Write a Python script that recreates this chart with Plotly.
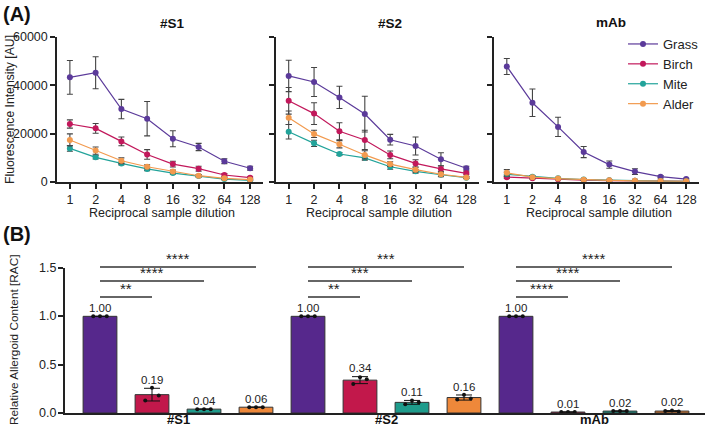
import numpy as np
import plotly.graph_objects as go

W, H = 709, 434

# ---------------- data ----------------
dilutions = ['1', '2', '4', '8', '16', '32', '64', '128']
allergens = ['Grass', 'Birch', 'Mite', 'Alder']
panels = ['#S1', '#S2', 'mAb']

# Fluorescence intensity [AU] (mean, SD) per panel / allergen
s1_grass = [43300, 45200, 30200, 26200, 17900, 14500, 8600, 5700]
s1_grass_sd = [7000, 6600, 4000, 7100, 3300, 1500, 1000, 800]
s1_birch = [24000, 22200, 16800, 11400, 7400, 5500, 2900, 1800]
s1_birch_sd = [1700, 2000, 1800, 2000, 1200, 1000, 600, 400]
s1_mite = [13900, 10200, 7700, 5400, 3700, 2500, 1200, 700]
s1_mite_sd = [1200, 700, 600, 700, 500, 400, 300, 200]
s1_alder = [17400, 13000, 8800, 6300, 4300, 2600, 1500, 1000]
s1_alder_sd = [2500, 1500, 1200, 800, 600, 500, 300, 200]

s2_grass = [43900, 41400, 35000, 28100, 17500, 14900, 9400, 5700]
s2_grass_sd = [6500, 6000, 4600, 7400, 2200, 3700, 2700, 800]
s2_birch = [33600, 28300, 21000, 17400, 11200, 7700, 5400, 3600]
s2_birch_sd = [5500, 4500, 3500, 4000, 1600, 1500, 1200, 600]
s2_mite = [20800, 16000, 11600, 10000, 6300, 4400, 3000, 1800]
s2_mite_sd = [3000, 1300, 600, 1000, 1000, 800, 600, 300]
s2_alder = [26600, 19900, 15600, 11200, 7400, 5100, 3200, 1900]
s2_alder_sd = [2800, 1500, 1500, 1700, 1000, 1000, 1000, 400]

mab_grass = [47800, 32800, 22800, 12400, 7200, 4300, 2200, 1200]
mab_grass_sd = [3300, 5700, 4000, 2300, 1500, 1200, 500, 300]
mab_birch = [2000, 1500, 1100, 800, 600, 500, 400, 300]
mab_birch_sd = [500, 300, 200, 150, 100, 100, 100, 100]
mab_mite = [3200, 2200, 1500, 1000, 700, 500, 400, 300]
mab_mite_sd = [900, 500, 300, 200, 150, 100, 100, 100]
mab_alder = [3800, 2000, 1400, 900, 700, 500, 400, 300]
mab_alder_sd = [1300, 500, 300, 200, 150, 100, 100, 100]

curves = {
    '#S1': {'Grass': (s1_grass, s1_grass_sd), 'Birch': (s1_birch, s1_birch_sd),
            'Mite': (s1_mite, s1_mite_sd), 'Alder': (s1_alder, s1_alder_sd)},
    '#S2': {'Grass': (s2_grass, s2_grass_sd), 'Birch': (s2_birch, s2_birch_sd),
            'Mite': (s2_mite, s2_mite_sd), 'Alder': (s2_alder, s2_alder_sd)},
    'mAb': {'Grass': (mab_grass, mab_grass_sd), 'Birch': (mab_birch, mab_birch_sd),
            'Mite': (mab_mite, mab_mite_sd), 'Alder': (mab_alder, mab_alder_sd)},
}

# Relative allergoid content replicates
rac_s1 = {'Grass': [1.0, 1.0, 1.0], 'Birch': [0.13, 0.26, 0.18],
          'Mite': [0.04, 0.04, 0.04], 'Alder': [0.06, 0.06, 0.06]}
rac_s2 = {'Grass': [1.0, 1.0, 1.0], 'Birch': [0.30, 0.37, 0.35],
          'Mite': [0.09, 0.13, 0.11], 'Alder': [0.14, 0.19, 0.15]}
rac_mab = {'Grass': [1.0, 1.0, 1.0], 'Birch': [0.01, 0.01, 0.01],
           'Mite': [0.02, 0.02, 0.02], 'Alder': [0.02, 0.025, 0.015]}
rac = {'#S1': rac_s1, '#S2': rac_s2, 'mAb': rac_mab}

rac_ticks = [0.0, 0.5, 1.0, 1.5]

sig_s1 = ['**', '****', '****']
sig_s2 = ['**', '***', '***']
sig_mab = ['****', '****', '****']
sig = {'#S1': sig_s1, '#S2': sig_s2, 'mAb': sig_mab}
sig_levels = [1.20, 1.365, 1.51]

# ---------------- style ----------------
line_col = {'Grass': '#5B3A9A', 'Birch': '#C2185B', 'Mite': '#22A39A', 'Alder': '#F29A4E'}
bar_col = {'Grass': '#56288C', 'Birch': '#C2184B', 'Mite': '#1E9C8C', 'Alder': '#EE883A'}
AX = '#222222'
FONT = 'Liberation Sans, Arial, sans-serif'


def px_x(a, b):
    return [a / W, b / W]


def px_y(top, bottom):
    return [(H - bottom) / H, (H - top) / H]


fig = go.Figure()

top_dom = [(57, 263), (276, 479), (494, 699)]
top_y = px_y(37, 182)

for i, p in enumerate(panels):
    xa = 'x' if i == 0 else f'x{i+1}'
    ya = 'y' if i == 0 else f'y{i+1}'
    for a in allergens:
        m, sd = curves[p][a]
        fig.add_trace(go.Scatter(
            x=list(range(len(dilutions))), y=m, mode='lines+markers',
            name=a, legendgroup=a, showlegend=(i == 2),
            line=dict(color=line_col[a], width=1.2),
            marker=dict(color=line_col[a], size=6),
            error_y=dict(type='data', array=sd, color='#444444', thickness=1.1, width=3),
            cliponaxis=False, xaxis=xa, yaxis=ya))
    fig.layout[f'xaxis{"" if i == 0 else i+1}'] = dict(
        domain=px_x(*top_dom[i]), range=[-0.5, 7.5], anchor=ya, automargin=False,
        tickvals=list(range(len(dilutions))), ticktext=dilutions,
        showline=True, linecolor=AX, linewidth=1.5, ticks='outside', ticklen=5,
        tickwidth=1.5, tickcolor=AX, showgrid=False, zeroline=False,
        tickfont=dict(size=12.5, color=AX, family=FONT))
    fig.layout[f'yaxis{"" if i == 0 else i+1}'] = dict(
        domain=top_y, range=[0, 60000], anchor=xa, automargin=False,
        tickvals=[0, 20000, 40000, 60000], tickformat='d', showticklabels=(i == 0),
        showline=True, linecolor=AX, linewidth=1.5, ticks='outside', ticklen=5,
        tickwidth=1.5, tickcolor=AX, showgrid=False, zeroline=False,
        tickfont=dict(size=12.5, color=AX, family=FONT))

# ---------------- bottom panel ----------------
PXU = 96.67          # pixels per RAC unit
YTOP = 1.5           # main axis top
YSIG = 1.65          # headroom for significance brackets
bx0, bx1 = 65, 705
bar_w = 0.65
offs = [-0.13, 0.0, 0.13]
xpos = 0
annotations = []
for gi, p in enumerate(panels):
    g0 = xpos
    for a in allergens:
        vals = np.array(rac[p][a])
        mean = vals.mean()
        sd = vals.std(ddof=1)
        fig.add_trace(go.Bar(
            x=[xpos], y=[mean], width=bar_w,
            marker=dict(color=bar_col[a], line=dict(color='#333333', width=1)),
            error_y=dict(type='data', array=[sd], color='#111111', thickness=1, width=8),
            showlegend=False, xaxis='x4', yaxis='y4'))
        fig.add_trace(go.Scatter(
            x=[xpos + o for o in offs], y=vals, mode='markers',
            marker=dict(color='#111111', size=4), showlegend=False,
            cliponaxis=False, xaxis='x4', yaxis='y4'))
        annotations.append(dict(x=xpos, y=mean + sd + 0.085, xref='x4', yref='y4',
                                text=f'{mean:.2f}', showarrow=False, yanchor='middle',
                                xanchor='center',
                                font=dict(size=11.5, color='#222222', family=FONT)))
        xpos += 1
    for k, (lvl, s) in enumerate(zip(sig_levels, sig[p])):
        x_end = g0 + k + 1
        fig.add_trace(go.Scatter(
            x=[g0, x_end], y=[lvl, lvl], mode='lines',
            line=dict(color='#333333', width=1.5), showlegend=False,
            xaxis='x4', yaxis='y5'))
        annotations.append(dict(x=(g0 + x_end) / 2, y=lvl - 0.025, xref='x4', yref='y5',
                                text=s, showarrow=False, yanchor='bottom', xanchor='center',
                                font=dict(size=15, color='#222222', family=FONT)))
    annotations.append(dict(x=g0 + 1.5, y=(H - 419) / H, xref='x4', yref='paper',
                            text=f'<b>{p}</b>', showarrow=False, xanchor='center',
                            yanchor='middle', font=dict(size=13, color='#111', family=FONT)))

r0 = -(100 - bx0) / 52.0
r1 = r0 + (bx1 - bx0) / 52.0

fig.layout['xaxis4'] = dict(
    domain=px_x(bx0, bx1), range=[r0, r1], anchor='y4', automargin=False,
    showticklabels=False, ticks='', showline=True, linecolor=AX, linewidth=1.5,
    showgrid=False, zeroline=False)
# tick marks from the axis; tick labels drawn as annotations at the same values
fig.layout['yaxis4'] = dict(
    domain=[21 / H, (21 + YTOP * PXU) / H], range=[0, YTOP], anchor='x4',
    automargin=False, tickvals=rac_ticks, showticklabels=False, showline=True,
    linecolor=AX, linewidth=1.5,
    ticks='outside', ticklen=5, tickwidth=1.5, tickcolor=AX, showgrid=False,
    zeroline=False)
for tv in rac_ticks:
    annotations.append(dict(x=(bx0 - 7) / W, y=tv, xref='paper', yref='y4',
                            text=f'{tv:.1f}', showarrow=False, xanchor='right',
                            yanchor='middle', font=dict(size=12.5, color=AX, family=FONT)))
# helper axis with same scale but extra headroom for the brackets
fig.layout['yaxis5'] = dict(
    domain=[21 / H, (21 + YSIG * PXU) / H], range=[0, YSIG], anchor='x4',
    visible=False, automargin=False, showgrid=False, zeroline=False)

# ---------------- text ----------------
def pa(x, y, xa='center', ya='middle'):
    return dict(x=x / W, y=(H - y) / H, xref='paper', yref='paper', showarrow=False,
                xanchor=xa, yanchor=ya)

annotations += [
    dict(**pa(1, 14, 'left'), text='<b>(A)</b>', font=dict(size=20, color='#111', family=FONT)),
    dict(**pa(1, 234, 'left'), text='<b>(B)</b>', font=dict(size=20, color='#111', family=FONT)),
    dict(**pa(172, 24), text='<b>#S1</b>', font=dict(size=13.5, color='#111', family=FONT)),
    dict(**pa(390, 23), text='<b>#S2</b>', font=dict(size=13.5, color='#111', family=FONT)),
    dict(**pa(611, 22), text='<b>mAb</b>', font=dict(size=13.5, color='#111', family=FONT)),
    dict(**pa(10, 110), text='Fluorescence Intensity [AU]', textangle=-90,
         font=dict(size=12.2, color=AX, family=FONT)),
    dict(**pa(14, 340), text='Relative Allergoid Content [RAC]', textangle=-90,
         font=dict(size=11.8, color=AX, family=FONT)),
]
for (a, b) in top_dom:
    annotations.append(dict(**pa((a + b) / 2 + 2, 213), text='Reciprocal sample dilution',
                            font=dict(size=12.5, color=AX, family=FONT)))

fig.update_layout(
    width=W, height=H, margin=dict(l=0, r=0, t=0, b=0),
    paper_bgcolor='white', plot_bgcolor='rgba(0,0,0,0)',
    font=dict(family=FONT, color=AX),
    annotations=annotations,
    barmode='overlay',
    legend=dict(x=623 / W, y=(H - 29) / H, xanchor='left', yanchor='top',
                font=dict(size=13, color=AX, family=FONT), bgcolor='rgba(0,0,0,0)',
                tracegroupgap=0, itemwidth=30),
)

fig.write_html('out.html')
